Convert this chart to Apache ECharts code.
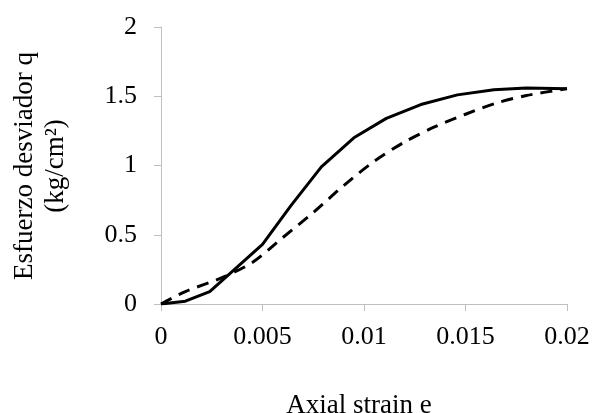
<!DOCTYPE html>
<html>
<head>
<meta charset="utf-8">
<script src="https://cdn.jsdelivr.net/npm/echarts@6/dist/echarts.min.js"></script>
<style>
  html, body { margin: 0; padding: 0; background: #fff; }
  #chart { width: 594px; height: 413px; }
</style>
</head>
<body>
<div id="chart"></div>
<script>
// solid curve (strain, q)
const solidStrain = [0, 0.0012, 0.0024, 0.005, 0.0064, 0.0079, 0.0095, 0.0111, 0.0128, 0.0146, 0.0164, 0.018, 0.02]
const solidQ = [0, 0.02, 0.09, 0.43, 0.71, 0.99, 1.2, 1.34, 1.44, 1.51, 1.547, 1.559, 1.554]

// dashed curve
const dashStrain = [0, 0.0012, 0.003, 0.0045, 0.006, 0.0075, 0.009, 0.0105, 0.012, 0.0135, 0.015, 0.0165, 0.018, 0.02]
const dashQ = [0, 0.09, 0.19, 0.3, 0.48, 0.66, 0.855, 1.03, 1.17, 1.28, 1.37, 1.45, 1.505, 1.555]

const xTicks = [0, 0.005, 0.01, 0.015, 0.02]
const yTicks = [0, 0.5, 1, 1.5, 2]

const font = 'Liberation Serif'
const toPairs = (xs, ys) => xs.map((x, i) => [x, ys[i]])

const chart = echarts.init(document.getElementById('chart'))
chart.setOption({
  animation: false,
  grid: { left: 161, right: 27, top: 27, bottom: 109 },
  xAxis: {
    type: 'value',
    min: xTicks[0],
    max: xTicks[xTicks.length - 1],
    interval: 0.005,
    splitLine: { show: false },
    axisLine: { lineStyle: { color: '#bfbfbf', width: 1 } },
    axisTick: { show: true, length: 7, lineStyle: { color: '#bfbfbf' } },
    axisLabel: { color: '#000', fontFamily: font, fontSize: 26, margin: 20 }
  },
  yAxis: {
    type: 'value',
    min: yTicks[0],
    max: yTicks[yTicks.length - 1],
    interval: 0.5,
    splitLine: { show: false },
    axisLine: { show: true, lineStyle: { color: '#bfbfbf', width: 1 } },
    axisTick: { show: true, length: 7, lineStyle: { color: '#bfbfbf' } },
    axisLabel: { color: '#000', fontFamily: font, fontSize: 26, margin: 24 }
  },
  graphic: [
    {
      type: 'text',
      x: 359,
      y: 406,
      style: {
        text: 'Axial strain e',
        fill: '#000',
        font: '27px Liberation Serif',
        align: 'center',
        verticalAlign: 'middle'
      }
    },
    {
      type: 'text',
      x: 40,
      y: 166,
      rotation: Math.PI / 2,
      style: {
        text: 'Esfuerzo desviador q\n(kg/cm²)',
        fill: '#000',
        font: '27px Liberation Serif',
        align: 'center',
        verticalAlign: 'middle',
        lineHeight: 31
      }
    }
  ],
  series: [
    {
      type: 'line',
      data: toPairs(solidStrain, solidQ),
      showSymbol: false,
      lineStyle: { color: '#000', width: 3 }
    },
    {
      type: 'line',
      data: toPairs(dashStrain, dashQ),
      showSymbol: false,
      smooth: 0.3,
      lineStyle: { color: '#000', width: 3, type: [12, 8] }
    }
  ]
})
</script>
</body>
</html>
